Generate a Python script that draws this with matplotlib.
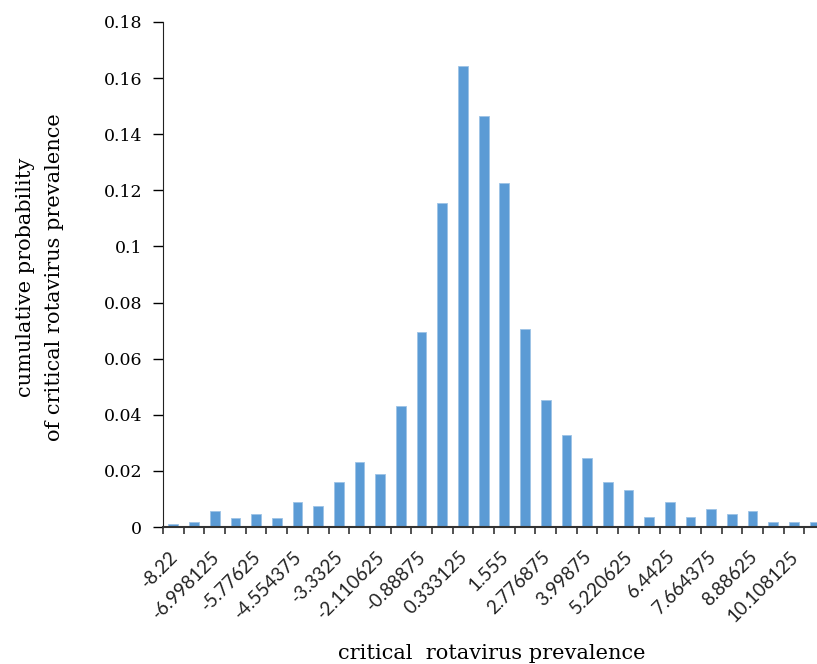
import matplotlib
matplotlib.use('Agg')
import matplotlib.pyplot as plt
import numpy as np

plt.rcParams['font.family'] = ['DejaVu Serif']

# bin starts (every other one labelled on the axis)
tick_labels = ["-8.22", "-6.998125", "-5.77625", "-4.554375", "-3.3325",
               "-2.110625", "-0.88875", "0.333125", "1.555", "2.776875",
               "3.99875", "5.220625", "6.4425", "7.664375", "8.88625",
               "10.108125"]

probability = [0.0009, 0.0019, 0.0058, 0.0031, 0.0048, 0.0031, 0.0088, 0.0076,
               0.0162, 0.0231, 0.0190, 0.0431, 0.0694, 0.1156, 0.1643, 0.1465,
               0.1225, 0.0706, 0.0453, 0.0328, 0.0247, 0.0162, 0.0133, 0.0037,
               0.0088, 0.0037, 0.0065, 0.0048, 0.0058, 0.0019, 0.0019, 0.0019]

W, H = 817, 664
fig = plt.figure(figsize=(W / 100, H / 100), dpi=100)
ax = fig.add_axes([163 / W, (H - 527) / H, 662 / W, 505 / H])

x = np.arange(len(probability))
ax.bar(x, probability, width=0.47, color='#5B9BD5', edgecolor='#9DC3E6', linewidth=0.6)

ax.set_xlim(-0.5, len(probability) - 0.5)
ax.set_ylim(0, 0.18)
ax.set_yticks(np.arange(0, 0.181, 0.02))
ax.set_yticklabels(["0", "0.02", "0.04", "0.06", "0.08", "0.1", "0.12", "0.14", "0.16", "0.18"])

# category labels on every other bin, drawn at the bin centres
ax.set_xticks(x[::2])
ax.set_xticklabels([])
for xi, lab in zip(x[::2], tick_labels):
    ax.annotate(lab, xy=(xi, 0), xycoords=('data', 'axes fraction'),
                xytext=(-3, -15), textcoords='offset points',
                rotation=45, ha='right', va='top', rotation_mode='anchor',
                family=['Lato', 'DejaVu Sans'], fontsize=13.5, color='#222222',
                annotation_clip=False)
ax.set_xticks(np.arange(-0.5, len(probability), 1), minor=True)
ax.tick_params(axis='x', which='major', length=0)
ax.tick_params(axis='x', which='minor', length=5, width=1.2, color='#333333', direction='out')
ax.tick_params(axis='y', length=7, width=1.0, labelsize=12.5, pad=8)

for s in ['top', 'right']:
    ax.spines[s].set_visible(False)
ax.spines['left'].set_color('#222222')
ax.spines['bottom'].set_color('#333333')
ax.spines['bottom'].set_linewidth(1.5)

fig.text(492 / W, 1 - 659 / H, "critical  rotavirus prevalence", ha='center', va='baseline', fontsize=15)
fig.text(40 / W, 1 - 277 / H, "cumulative probability\nof critical rotavirus prevalence",
         ha='center', va='center', rotation=90, fontsize=15, multialignment='center', linespacing=1.7)

fig.savefig('out.png', dpi=100)
